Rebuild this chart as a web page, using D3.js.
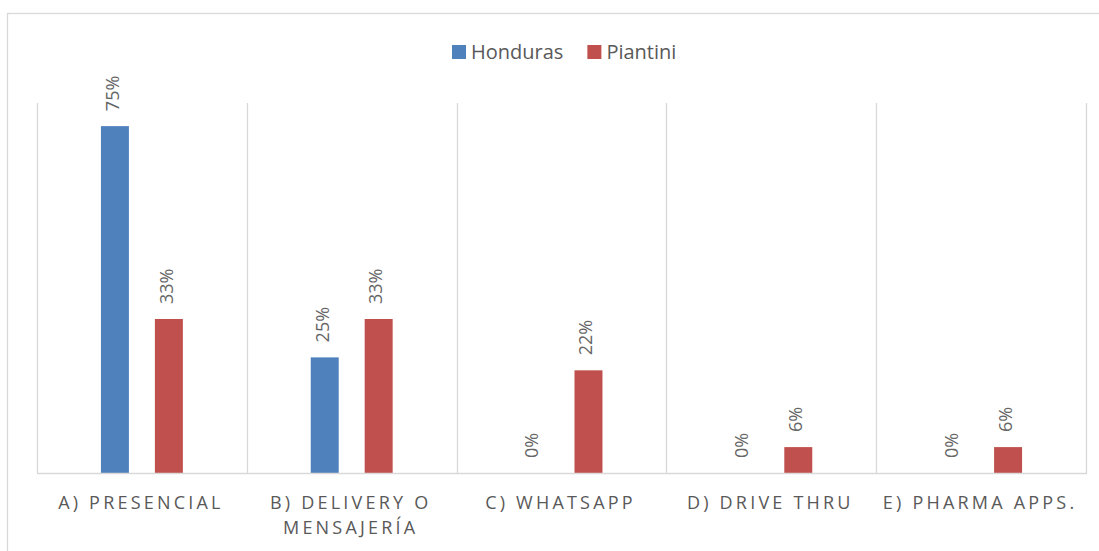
<!DOCTYPE html>
<html>
<head>
<meta charset="utf-8">
<script src="https://cdn.jsdelivr.net/npm/d3@7"></script>
<style>
  body { margin: 0; background: #fff; }
  svg text { font-family: "Open Sans", sans-serif; }
</style>
</head>
<body>
<svg id="chart" width="1099" height="551"></svg>
<script>
const categories = ["A) PRESENCIAL", "B) DELIVERY O MENSAJERÍA", "C) WHATSAPP", "D) DRIVE THRU", "E) PHARMA APPS."];
const seriesNames = ["Honduras", "Piantini"];
const honduras = [0.75, 0.25, 0, 0, 0];
const piantini = [0.333, 0.333, 0.222, 0.056, 0.056];
const seriesColors = ["#4f81bd", "#c0504d"];

const svg = d3.select("#chart");
const W = 1099, H = 551;
const plot = { left: 37, right: 1086, top: 103, bottom: 473 };
const grey = "#d9d9d9";
const textColor = "#595959";

// outer chart border (runs off the right and bottom edges)
svg.append("rect")
  .attr("x", 7.5).attr("y", 13.5)
  .attr("width", W).attr("height", H)
  .attr("fill", "none").attr("stroke", grey).attr("stroke-width", 1.3);

const x0 = d3.scaleBand().domain(categories).range([plot.left, plot.right]);
const x1 = d3.scaleBand().domain(seriesNames).range([0, x0.bandwidth()])
  .paddingInner(26 / 54).paddingOuter(1.185);
const y = d3.scaleLinear().domain([0, 0.8]).range([plot.bottom, plot.top]);
const color = d3.scaleOrdinal().domain(seriesNames).range(seriesColors);

// vertical gridlines at category boundaries
const bounds = categories.map(c => x0(c)).concat([plot.right]);
svg.append("g").selectAll("line").data(bounds).join("line")
  .attr("x1", d => Math.round(d) + 0.5).attr("x2", d => Math.round(d) + 0.5)
  .attr("y1", y(0.8)).attr("y2", y(0))
  .attr("stroke", grey).attr("stroke-width", 1.3);

const rows = categories.map((c, i) => ({ cat: c, vals: [
  { s: seriesNames[0], v: honduras[i] },
  { s: seriesNames[1], v: piantini[i] }
]}));

const groups = svg.append("g").selectAll("g").data(rows).join("g")
  .attr("transform", d => `translate(${x0(d.cat)},0)`);

groups.selectAll("rect").data(d => d.vals).join("rect")
  .attr("x", d => x1(d.s))
  .attr("width", x1.bandwidth())
  .attr("y", d => y(d.v))
  .attr("height", d => y(0) - y(d.v))
  .attr("fill", d => color(d.s));

groups.selectAll("text").data(d => d.vals).join("text")
  .attr("transform", d => `translate(${x1(d.s) + x1.bandwidth() / 2 - 1},${y(d.v) - 15}) rotate(-90)`)
  .attr("dominant-baseline", "middle")
  .attr("fill", "#666")
  .style("font-size", "18px")
  .text(d => d3.format(".0%")(d.v));

// baseline
svg.append("line")
  .attr("x1", plot.left).attr("x2", plot.right + 1)
  .attr("y1", y(0) + 0.5).attr("y2", y(0) + 0.5)
  .attr("stroke", grey).attr("stroke-width", 1.5);

// category labels, wrapped to band width
const axisG = svg.append("g");
categories.forEach(c => {
  const cx = x0(c) + x0.bandwidth() / 2 - 1;
  const t = axisG.append("text")
    .attr("x", cx)
    .attr("y", y(0) + 36)
    .attr("text-anchor", "middle")
    .attr("fill", textColor)
    .style("font-size", "18px")
    .style("letter-spacing", "3.2px");
  const words = c.split(" ");
  let line = [];
  let tspan = t.append("tspan").attr("x", cx).attr("dy", 0);
  words.forEach(w => {
    line.push(w);
    tspan.text(line.join(" "));
    if (tspan.node().getComputedTextLength() > x0.bandwidth() - 14 && line.length > 1) {
      line.pop();
      tspan.text(line.join(" "));
      line = [w];
      tspan = t.append("tspan").attr("x", cx).attr("dy", 25).text(w);
    }
  });
});

// legend
const legend = svg.append("g");
let lx = 452;
seriesNames.forEach(s => {
  legend.append("rect").attr("x", lx).attr("y", 45).attr("width", 14).attr("height", 14).attr("fill", color(s));
  const t = legend.append("text").attr("x", lx + 19).attr("y", 59)
    .attr("fill", textColor).style("font-size", "20px").text(s);
  lx += 19 + t.node().getComputedTextLength() + 24;
});
</script>
</body>
</html>
